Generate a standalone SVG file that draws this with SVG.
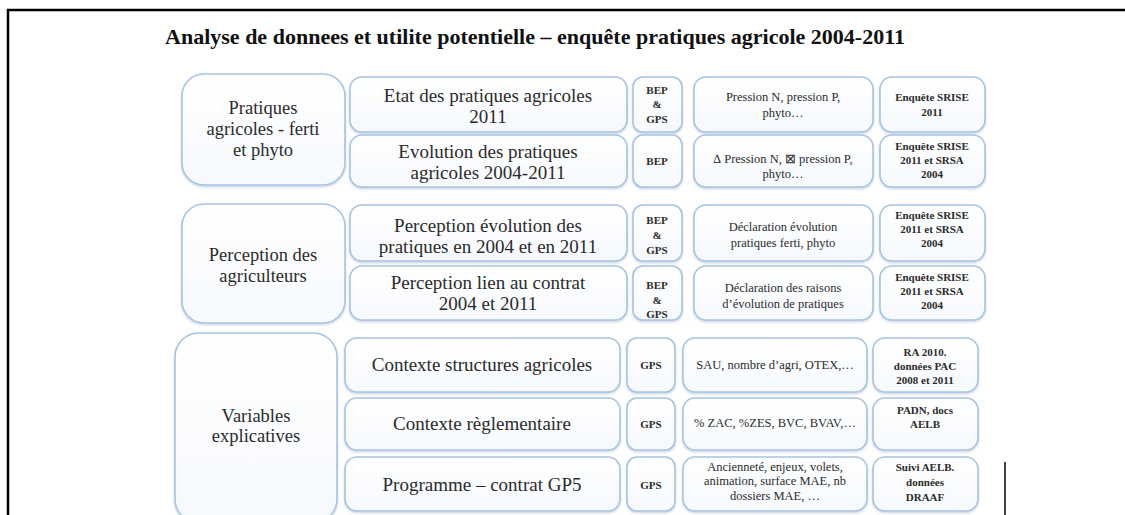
<svg xmlns="http://www.w3.org/2000/svg" width="1125" height="515" viewBox="0 0 1125 515">
<defs>
<filter id="sh" x="-10%" y="-10%" width="120%" height="130%">
<feDropShadow dx="0" dy="1.5" stdDeviation="1.2" flood-color="#8aa6c8" flood-opacity="0.45"/>
</filter>
<linearGradient id="fill" x1="0" y1="0" x2="0" y2="1">
<stop offset="0" stop-color="#ffffff"/>
<stop offset="1" stop-color="#f6f9fd"/>
</linearGradient>
</defs>
<style>
.frame{stroke:#000;stroke-width:2.5;fill:none}
.box{fill:url(#fill);stroke:#a9c3e2;stroke-width:1.6;filter:url(#sh)}
.t{font-family:"Liberation Serif",serif;fill:#2b2b2b;text-anchor:middle}
.big{font-size:19px}
.lft{font-size:18.5px}
.sm{font-size:11px}
.md{font-size:12.5px}
.b{font-weight:bold}
.title{font-family:"Liberation Serif",serif;font-size:22px;fill:#111;font-weight:bold}
</style>
<rect width="1125" height="515" fill="#fff"/>
<g id="frame">
<path class="frame" d="M8,515 V10 H1125"/>
<line x1="1005" y1="462" x2="1005" y2="515" stroke="#000" stroke-width="1.5"/>
</g>
<text class="title" x="165" y="44" textLength="740" lengthAdjust="spacingAndGlyphs">Analyse de donnees et utilite potentielle – enquête pratiques agricole 2004-2011</text>

<g id="grp1">
<rect class="box" x="182" y="74" width="163" height="111" rx="22"/>
<text class="t lft" x="263" y="114">Pratiques</text>
<text class="t lft" x="263" y="135">agricoles - ferti</text>
<text class="t lft" x="263" y="156">et phyto</text>
</g>
<g id="row1">
<rect class="box" x="350" y="77" width="277" height="55" rx="12"/>
<text class="t big" x="488" y="102">Etat des pratiques agricoles</text>
<text class="t big" x="488" y="123">2011</text>
<rect class="box" x="633" y="77" width="49" height="55" rx="10"/>
<text class="t sm b" x="657" y="94">BEP</text>
<text class="t sm b" x="657" y="108">&amp;</text>
<text class="t sm b" x="657" y="123">GPS</text>
<rect class="box" x="694" y="77" width="179" height="55" rx="12"/>
<text class="t md" x="783" y="101">Pression N, pression P,</text>
<text class="t md" x="783" y="117">phyto…</text>
<rect class="box" x="880" y="77" width="105" height="55" rx="12"/>
<text class="t sm b" x="932" y="101">Enquête SRISE</text>
<text class="t sm b" x="932" y="116">2011</text>
</g>
<g id="row2">
<rect class="box" x="350" y="135" width="277" height="52" rx="12"/>
<text class="t big" x="488" y="158">Evolution des pratiques</text>
<text class="t big" x="488" y="179">agricoles 2004-2011</text>
<rect class="box" x="633" y="135" width="49" height="52" rx="10"/>
<text class="t sm b" x="657" y="165">BEP</text>
<rect class="box" x="694" y="135" width="179" height="52" rx="12"/>
<text class="t md" x="783" y="163">∆ Pression N, ⊠ pression P,</text>
<text class="t md" x="783" y="178">phyto…</text>
<rect class="box" x="880" y="135" width="105" height="52" rx="12"/>
<text class="t sm b" x="932" y="150">Enquête SRISE</text>
<text class="t sm b" x="932" y="164">2011 et SRSA</text>
<text class="t sm b" x="932" y="178">2004</text>
</g>

<g id="grp2">
<rect class="box" x="182" y="204" width="163" height="119" rx="22"/>
<text class="t lft" x="263" y="261">Perception des</text>
<text class="t lft" x="263" y="282">agriculteurs</text>
</g>
<g id="row3">
<rect class="box" x="350" y="205" width="277" height="56" rx="12"/>
<text class="t big" x="488" y="232">Perception évolution des</text>
<text class="t big" x="488" y="253">pratiques en 2004 et en 2011</text>
<rect class="box" x="633" y="205" width="49" height="56" rx="10"/>
<text class="t sm b" x="657" y="224">BEP</text>
<text class="t sm b" x="657" y="239">&amp;</text>
<text class="t sm b" x="657" y="254">GPS</text>
<rect class="box" x="694" y="205" width="179" height="56" rx="12"/>
<text class="t md" x="783" y="231">Déclaration évolution</text>
<text class="t md" x="783" y="247">pratiques ferti, phyto</text>
<rect class="box" x="880" y="205" width="105" height="56" rx="12"/>
<text class="t sm b" x="932" y="219">Enquête SRISE</text>
<text class="t sm b" x="932" y="233">2011 et SRSA</text>
<text class="t sm b" x="932" y="247">2004</text>
</g>
<g id="row4">
<rect class="box" x="350" y="266" width="277" height="54" rx="12"/>
<text class="t big" x="488" y="289">Perception lien au contrat</text>
<text class="t big" x="488" y="310">2004 et 2011</text>
<rect class="box" x="633" y="266" width="49" height="54" rx="10"/>
<text class="t sm b" x="657" y="289">BEP</text>
<text class="t sm b" x="657" y="304">&amp;</text>
<text class="t sm b" x="657" y="318">GPS</text>
<rect class="box" x="694" y="266" width="179" height="54" rx="12"/>
<text class="t md" x="783" y="292">Déclaration des raisons</text>
<text class="t md" x="783" y="308">d’évolution de pratiques</text>
<rect class="box" x="880" y="266" width="105" height="54" rx="12"/>
<text class="t sm b" x="932" y="281">Enquête SRISE</text>
<text class="t sm b" x="932" y="295">2011 et SRSA</text>
<text class="t sm b" x="932" y="309">2004</text>
</g>

<g id="grp3">
<rect class="box" x="175" y="333" width="162" height="190" rx="24"/>
<text class="t lft" x="256" y="422">Variables</text>
<text class="t lft" x="256" y="442">explicatives</text>
</g>
<g id="row5">
<rect class="box" x="345" y="338" width="275" height="54" rx="12"/>
<text class="t big" x="482" y="371">Contexte structures agricoles</text>
<rect class="box" x="627" y="338" width="48" height="54" rx="10"/>
<text class="t sm b" x="651" y="369">GPS</text>
<rect class="box" x="683" y="338" width="184" height="54" rx="12"/>
<text class="t md" x="775" y="369">SAU, nombre d’agri, OTEX,…</text>
<rect class="box" x="873" y="338" width="105" height="54" rx="12"/>
<text class="t sm b" x="925" y="356">RA 2010.</text>
<text class="t sm b" x="925" y="370">données PAC</text>
<text class="t sm b" x="925" y="384">2008 et 2011</text>
</g>
<g id="row6">
<rect class="box" x="345" y="398" width="275" height="52" rx="12"/>
<text class="t big" x="482" y="430">Contexte règlementaire</text>
<rect class="box" x="627" y="398" width="48" height="52" rx="10"/>
<text class="t sm b" x="651" y="428">GPS</text>
<rect class="box" x="683" y="398" width="184" height="52" rx="12"/>
<text class="t md" x="775" y="427">% ZAC, %ZES, BVC, BVAV,…</text>
<rect class="box" x="873" y="398" width="105" height="52" rx="12"/>
<text class="t sm b" x="925" y="414">PADN, docs</text>
<text class="t sm b" x="925" y="428">AELB</text>
</g>
<g id="row7">
<rect class="box" x="345" y="457" width="275" height="54" rx="12"/>
<text class="t big" x="482" y="491">Programme – contrat GP5</text>
<rect class="box" x="627" y="457" width="48" height="54" rx="10"/>
<text class="t sm b" x="651" y="489">GPS</text>
<rect class="box" x="683" y="457" width="184" height="54" rx="12"/>
<text class="t md" x="775" y="471">Ancienneté, enjeux, volets,</text>
<text class="t md" x="775" y="485">animation, surface MAE, nb</text>
<text class="t md" x="775" y="500">dossiers MAE, …</text>
<rect class="box" x="873" y="457" width="105" height="54" rx="12"/>
<text class="t sm b" x="925" y="471">Suivi AELB.</text>
<text class="t sm b" x="925" y="486">données</text>
<text class="t sm b" x="925" y="501">DRAAF</text>
</g>
</svg>
